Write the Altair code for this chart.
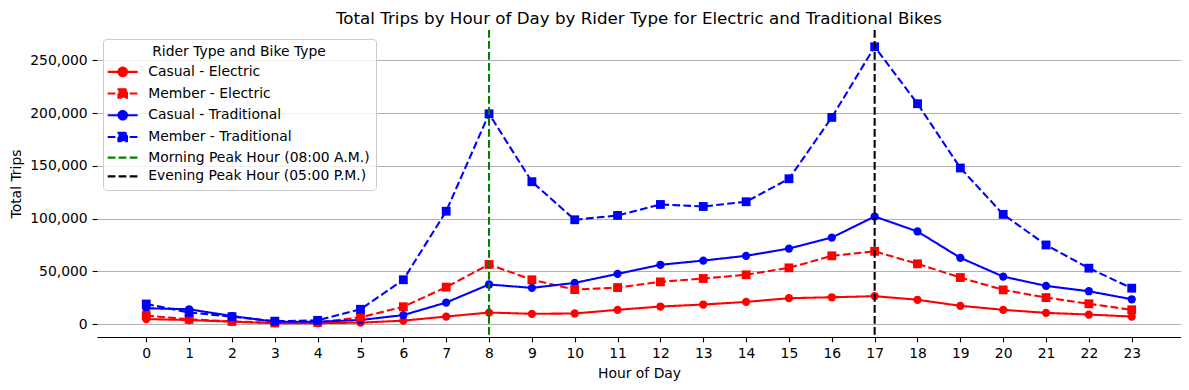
import altair as alt
import pandas as pd

hours = list(range(24))
casual_electric = [4700, 3800, 2200, 800, 800, 1300, 3200, 7100, 10900, 9700, 10000, 13500, 16600, 18500, 21000, 24500, 25400, 26400, 23000, 17300, 13500, 10600, 9000, 7100]
member_electric = [8000, 4500, 2500, 1000, 1500, 6300, 16400, 35000, 56500, 42000, 32700, 34600, 40000, 43200, 46700, 53300, 64700, 69000, 57100, 44100, 32400, 25100, 19200, 13500]
casual_traditional = [15000, 14000, 7600, 2200, 2200, 3800, 8500, 20400, 37500, 34300, 39000, 47600, 56200, 60200, 64700, 71600, 82000, 102000, 87800, 62800, 45000, 36200, 31100, 23500]
member_traditional = [19000, 11000, 7000, 2700, 3500, 14000, 42000, 107000, 199400, 135000, 98900, 103000, 113400, 111500, 116000, 137800, 196000, 263000, 209000, 148000, 104000, 75000, 53000, 34000]

series_names = ["Casual - Electric", "Member - Electric", "Casual - Traditional", "Member - Traditional",
                "Morning Peak Hour (08:00 A.M.)", "Evening Peak Hour (05:00 P.M.)"]
series_colors = ["#ff0000", "#ff0000", "#0000ff", "#0000ff", "#008000", "#000000"]
peak_hours = [8, 17]

DASH = [7.7, 3.3]
SOLID = [1, 0]
dash_range = [SOLID, DASH, SOLID, DASH, DASH, DASH]

circle_path = "M-1.65,0H4.35M2.2,0A0.85,0.85,0,1,1,0.5,0A0.85,0.85,0,1,1,2.2,0Z"
square_path = "M-1.65,0H4.35M0.5,-0.85H2.2V0.85H0.5Z"
line_path = "M-1.65,0H4.35"
shape_range = [circle_path, square_path, circle_path, square_path, line_path, line_path]

rows = []
for name, vals in zip(series_names[:4], [casual_electric, member_electric, casual_traditional, member_traditional]):
    for h, v in zip(hours, vals):
        rows.append({"hour": h, "trips": v, "series": name,
                     "kind": "Casual" if name.startswith("Casual") else "Member"})
df = pd.DataFrame(rows)
rules_df = pd.DataFrame({"hour": peak_hours, "series": series_names[4:]})
legend_df = pd.DataFrame({"series": series_names})

FONT = "DejaVu Sans"
color_scale = alt.Scale(domain=series_names, range=series_colors)
dash_scale = alt.Scale(domain=series_names, range=dash_range)
x_scale = alt.Scale(domain=[-1.15, 24.15], nice=False, zero=False)
y_scale = alt.Scale(domain=[-12300, 278900], nice=False, zero=False)

x_enc = alt.X("hour:Q", scale=x_scale,
              axis=alt.Axis(values=hours, grid=False, title="Hour of Day", labelAngle=0,
                            titlePadding=6))
y_enc = alt.Y("trips:Q", scale=y_scale,
              axis=alt.Axis(values=[0, 50000, 100000, 150000, 200000, 250000], format=",d",
                            grid=True, gridColor="#b0b0b0", gridWidth=1.1, domain=False,
                            title="Total Trips", titlePadding=6))

lines = alt.Chart(df).mark_line(strokeWidth=2.08).encode(
    x=x_enc, y=y_enc,
    color=alt.Color("series:N", scale=color_scale, legend=None),
    strokeDash=alt.StrokeDash("series:N", scale=dash_scale, legend=None),
)
circles = alt.Chart(df).transform_filter(alt.datum.kind == "Casual").mark_circle(
    size=68, opacity=1).encode(
    x=x_enc, y=y_enc, color=alt.Color("series:N", scale=color_scale, legend=None))
squares = alt.Chart(df).transform_filter(alt.datum.kind == "Member").mark_square(
    size=78, opacity=1).encode(
    x=x_enc, y=y_enc, color=alt.Color("series:N", scale=color_scale, legend=None))
rules = alt.Chart(rules_df).mark_rule(strokeWidth=2.08).encode(
    x=alt.X("hour:Q", scale=x_scale),
    color=alt.Color("series:N", scale=color_scale, legend=None),
    strokeDash=alt.StrokeDash("series:N", scale=dash_scale, legend=None),
)

def make_legend():
    return alt.Legend(
        title="Rider Type and Bike Type", orient="none", legendX=6, legendY=9,
        titleAnchor="middle", titleFont=FONT, titleFontSize=13.9, titleFontWeight="normal",
        titleColor="black", titlePadding=6, titleLimit=400,
        labelFont=FONT, labelFontSize=13.9, labelColor="black", labelLimit=400,
        labelOffset=25.4, symbolSize=100, symbolStrokeWidth=2.08, rowPadding=3.7,
        padding=6, fillColor="rgba(255,255,255,0.8)", strokeColor="#cccccc",
        cornerRadius=3)

legend_layer = alt.Chart(legend_df).transform_filter("false").mark_point(
    filled=True, size=100, opacity=1, strokeWidth=2.08).encode(
    fill=alt.Fill("series:N", scale=alt.Scale(domain=series_names, range=series_colors),
                  legend=make_legend(), title="Rider Type and Bike Type"),
    stroke=alt.Stroke("series:N", scale=alt.Scale(domain=series_names, range=series_colors),
                      legend=make_legend(), title="Rider Type and Bike Type"),
    shape=alt.Shape("series:N", scale=alt.Scale(domain=series_names, range=shape_range),
                    legend=make_legend(), title="Rider Type and Bike Type"),
    strokeDash=alt.StrokeDash("series:N", scale=dash_scale,
                              legend=make_legend(), title="Rider Type and Bike Type"),
)

chart = alt.layer(legend_layer, lines, circles, squares, rules).properties(
    width=1084, height=307,
    padding={"left": 89, "top": 22, "right": 0, "bottom": 45},
    autosize=alt.AutoSizeParams(type="none"),
    title=alt.TitleParams(
        "Total Trips by Hour of Day by Rider Type for Electric and Traditional Bikes",
        font=FONT, fontSize=16.7, fontWeight="normal", color="black", anchor="middle",
        frame="group", offset=1),
).configure_axis(
    labelFont=FONT, labelFontSize=13.9, titleFont=FONT, titleFontSize=13.9,
    titleFontWeight="normal", labelColor="black", titleColor="black",
    tickColor="black", domainColor="black", tickWidth=1.1, domainWidth=1.1,
    tickSize=4.9, labelPadding=4.9,
).configure_view(stroke=None)

chart.save("out.html", embed_options={"renderer": "svg", "actions": False})
